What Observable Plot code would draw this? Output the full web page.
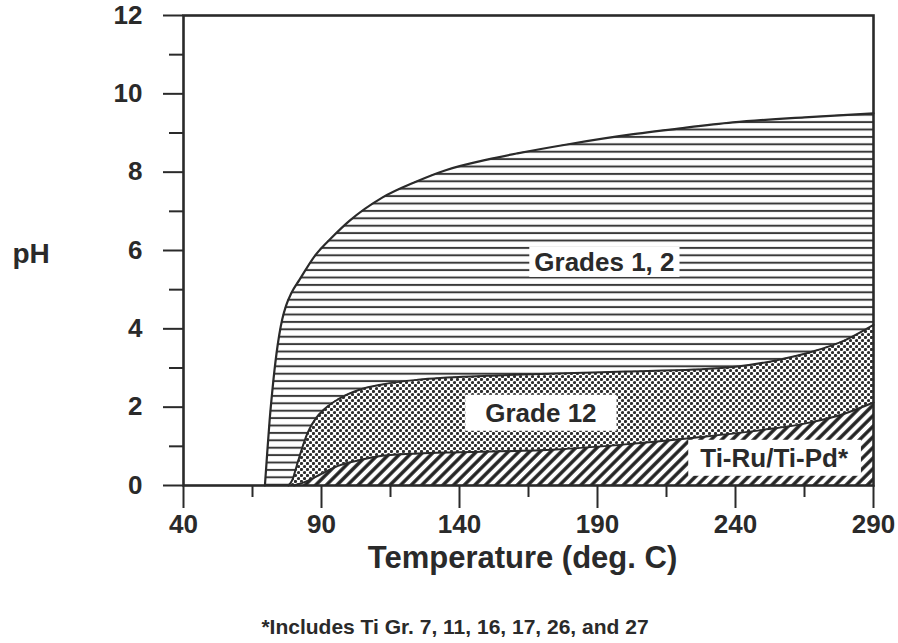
<!DOCTYPE html>
<html>
<head>
<meta charset="utf-8">
<script src="https://cdn.jsdelivr.net/npm/d3@7"></script>
<script src="https://cdn.jsdelivr.net/npm/@observablehq/plot@0.6"></script>
<style>
  body { margin: 0; background: #fff; }
  #chart { width: 898px; }
  #caption {
    font-family: "Liberation Sans", Arial, Helvetica, sans-serif;
    font-weight: bold; font-size: 21px; color: #2a2a2a;
    width: 898px; box-sizing: border-box; padding-left: 12px;
    padding-top: 14px; line-height: 26px; text-align: center;
  }
</style>
</head>
<body>
<div id="chart"></div>
<div id="caption">*Includes Ti Gr. 7, 11, 16, 17, 26, and 27</div>
<script>
// ---- Data ----
// Grades 1, 2 upper boundary
const grades12Temp = [69.5, 70.3, 71.2, 72.3, 73.7, 74.7, 75.8, 77.2, 79, 82, 88, 94, 100, 112, 124, 135, 150, 161, 180, 203, 220, 239, 265, 290];
const grades12PH   = [0,    0.8,  1.66, 2.5,  3.37, 3.85, 4.25, 4.6,  4.9, 5.25, 5.9, 6.35, 6.75, 7.35, 7.75, 8.05, 8.32, 8.48, 8.72, 8.97, 9.12, 9.27, 9.4, 9.5];
// Grade 12 upper boundary
const grade12Temp = [78, 79.5, 81, 82.5, 85, 88, 91, 96, 104, 112, 125, 150, 175, 200, 225, 240, 255, 268, 280, 290];
const grade12PH   = [0,  0.15, 0.5, 0.85, 1.35, 1.72, 1.95, 2.2, 2.45, 2.58, 2.7, 2.8, 2.86, 2.91, 2.96, 3.03, 3.2, 3.42, 3.72, 4.1];
// Ti-Ru / Ti-Pd upper boundary
const tiRuTemp = [80, 85, 90, 96, 104, 112, 125, 140, 175, 200, 225, 250, 265, 278, 290];
const tiRuPH   = [0,  0.12, 0.3, 0.5, 0.65, 0.76, 0.82, 0.85, 0.92, 1.05, 1.22, 1.42, 1.58, 1.8, 2.12];
// Region labels
const labelText = ["Grades 1, 2", "Grade 12", "Ti-Ru/Ti-Pd*"];
const labelTemp = [192.5, 169.5, 254];
const labelPH   = [5.69, 1.84, 0.69];
// Ticks
const xMajorTicks = [40, 90, 140, 190, 240, 290];
const xMinorTicks = [65, 115, 165, 215, 265];
const yMajorTicks = [0, 2, 4, 6, 8, 10, 12];
const yMinorTicks = [1, 3, 5, 7, 9, 11];

const rows = (T, P) => T.map((t, i) => ({t, ph: P[i]}));
const g12 = rows(grades12Temp, grades12PH);
const gr12 = rows(grade12Temp, grade12PH);
const tiru = rows(tiRuTemp, tiRuPH);
const labels = labelText.map((s, i) => ({label: s, t: labelTemp[i], ph: labelPH[i]}));

const ink = "#2a2a2a";
const font = '"Liberation Sans", Arial, Helvetica, sans-serif';

const plot = Plot.plot({
  width: 898,
  height: 600,
  marginLeft: 183,
  marginRight: 25,
  marginTop: 15,
  marginBottom: 115,
  style: {fontFamily: font, fontWeight: "bold", fontSize: "26px", color: ink, background: "#fff", overflow: "visible"},
  x: {domain: [40, 290], label: null},
  y: {domain: [0, 12], label: null},
  marks: [
    Plot.areaY(g12, {x: "t", y: "ph", fill: "url(#hatchH)", curve: "monotone-x"}),
    Plot.lineY(g12, {x: "t", y: "ph", stroke: ink, strokeWidth: 2.2, curve: "monotone-x"}),
    Plot.areaY(gr12, {x: "t", y: "ph", fill: "url(#dots)", curve: "monotone-x"}),
    Plot.lineY(gr12, {x: "t", y: "ph", stroke: ink, strokeWidth: 2, curve: "monotone-x"}),
    Plot.areaY(tiru, {x: "t", y: "ph", fill: "url(#diag)", curve: "monotone-x"}),
    Plot.lineY(tiru, {x: "t", y: "ph", stroke: ink, strokeWidth: 2, curve: "monotone-x"}),
    Plot.text(labels, {x: "t", y: "ph", text: "label", fontSize: 26, fill: ink}),
    Plot.frame({stroke: ink, strokeWidth: 2.6}),
    Plot.axisY({ticks: yMajorTicks, tickSize: 20, tickPadding: 21, strokeWidth: 2, stroke: ink, fill: ink, label: null}),
    Plot.axisY({ticks: yMinorTicks, tickSize: 14, strokeWidth: 2, stroke: ink, fill: "none", label: null}),
    Plot.axisX({ticks: xMajorTicks, tickSize: 23, tickPadding: 6, strokeWidth: 2, stroke: ink, fill: ink, label: null}),
    Plot.axisX({ticks: xMinorTicks, tickSize: 12, strokeWidth: 2, stroke: ink, fill: "none", label: null}),
    Plot.text(["pH"], {frameAnchor: "left", textAnchor: "start", dx: -171, dy: 4, fontSize: 28, fill: ink}),
    Plot.text(["Temperature (deg. C)"], {frameAnchor: "bottom", dx: -6, dy: 82, fontSize: 31, fill: ink})
  ]
});

document.getElementById("chart").appendChild(plot);

// ---- Fill patterns ----
const svg = d3.select(plot);
const defs = svg.insert("defs", ":first-child");

const ph = defs.append("pattern").attr("id", "hatchH").attr("patternUnits", "userSpaceOnUse")
  .attr("width", 10).attr("height", 7.4);
ph.append("rect").attr("width", 10).attr("height", 7.4).attr("fill", "#fff");
ph.append("line").attr("x1", 0).attr("x2", 10).attr("y1", 3.7).attr("y2", 3.7)
  .attr("stroke", "#3a3a3a").attr("stroke-width", 2);

const pd = defs.append("pattern").attr("id", "dots").attr("patternUnits", "userSpaceOnUse")
  .attr("width", 6).attr("height", 6);
pd.append("rect").attr("width", 6).attr("height", 6).attr("fill", "#fff");
pd.append("circle").attr("cx", 1.5).attr("cy", 1.5).attr("r", 1.6).attr("fill", "#2e2e2e");
pd.append("circle").attr("cx", 4.5).attr("cy", 4.5).attr("r", 1.6).attr("fill", "#2e2e2e");

const pg = defs.append("pattern").attr("id", "diag").attr("patternUnits", "userSpaceOnUse")
  .attr("width", 7.5).attr("height", 10).attr("patternTransform", "rotate(45)");
pg.append("rect").attr("width", 7.5).attr("height", 10).attr("fill", "#fff");
pg.append("line").attr("x1", 3.75).attr("x2", 3.75).attr("y1", 0).attr("y2", 10)
  .attr("stroke", "#222").attr("stroke-width", 3.4);

// ---- White boxes behind the region labels (sized from each label's own bounding box) ----
const pads = {"Grades 1, 2": [5, 0], "Grade 12": [20, 3], "Ti-Ru/Ti-Pd*": [12, 3]};
svg.selectAll("text").filter(function () { return labelText.includes(this.textContent); }).each(function () {
  const b = this.getBBox();
  const [px, py] = pads[this.textContent] || [6, 2];
  const r = document.createElementNS("http://www.w3.org/2000/svg", "rect");
  this.parentNode.insertBefore(r, this);
  d3.select(r)
    .attr("transform", this.getAttribute("transform"))
    .attr("x", b.x - px + (+this.getAttribute("x") ? 0 : 0)).attr("y", b.y - py)
    .attr("width", b.width + 2 * px).attr("height", b.height + 2 * py)
    .attr("fill", "#fff");
});
</script>
</body>
</html>
